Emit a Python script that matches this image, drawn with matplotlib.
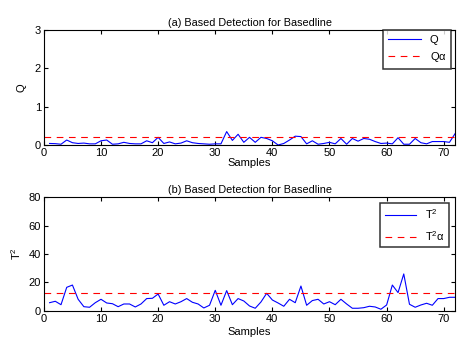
import numpy as np
import matplotlib
matplotlib.use('Agg')
from matplotlib import pyplot as plt

plt.rcParams['font.family'] = ['Liberation Sans', 'DejaVu Sans']
plt.rcParams['mathtext.fontset'] = 'custom'
plt.rcParams['mathtext.rm'] = 'Liberation Sans'
plt.rcParams['mathtext.it'] = 'Liberation Sans'

# サンプル番号
samples = list(range(1, 73))

# Q統計量
q_values = [0.04, 0.035, 0.02, 0.13, 0.06, 0.04, 0.05, 0.03, 0.03, 0.11,
            0.13, 0.02, 0.03, 0.07, 0.04, 0.03, 0.03, 0.11, 0.06, 0.2,
            0.04, 0.08, 0.03, 0.05, 0.11, 0.06, 0.04, 0.03, 0.02, 0.03,
            0.03, 0.35, 0.12, 0.28, 0.07, 0.2, 0.07, 0.2, 0.17, 0.11,
            0.0, 0.04, 0.13, 0.23, 0.22, 0.03, 0.11, 0.02, 0.04, 0.07,
            0.03, 0.17, 0.02, 0.17, 0.1, 0.17, 0.15, 0.09, 0.04, 0.05,
            0.03, 0.19, 0.02, 0.02, 0.17, 0.06, 0.03, 0.09, 0.09, 0.09,
            0.07, 0.3]
q_limit = 0.2

# T2統計量
t2_values = [5.8, 6.8, 4.4, 16.6, 18.2, 8.2, 3.0, 2.6, 5.8, 8.2,
             5.6, 5.1, 3.0, 4.9, 4.9, 2.8, 4.9, 8.7, 8.9, 11.9,
             4.0, 6.5, 4.9, 6.5, 8.7, 6.1, 4.9, 2.1, 4.0, 14.5,
             4.0, 14.3, 4.4, 8.7, 7.0, 3.5, 1.9, 6.3, 12.4, 7.7,
             5.6, 3.3, 8.2, 5.8, 17.5, 4.0, 7.3, 8.2, 4.9, 6.5,
             4.4, 8.2, 4.9, 1.9, 1.9, 2.3, 3.3, 2.8, 1.2, 4.2,
             18.2, 12.9, 26.0, 4.7, 2.6, 4.2, 5.4, 4.0, 8.7, 8.7,
             9.6, 9.6]
t2_limit = 12.4

fig = plt.figure(figsize=(4.57, 3.38), dpi=100)

ax1 = fig.add_axes([0.096, 0.571, 0.9, 0.34])
ax2 = fig.add_axes([0.096, 0.080, 0.9, 0.337])

def style_axis(ax):
    ax.tick_params(direction='in', top=True, right=True, labelsize=8, length=3, width=0.8, pad=2)
    for s in ax.spines.values():
        s.set_linewidth(0.8)
    ax.set_xlim(0, 72)
    ax.set_xticks(range(0, 71, 10))

#(a) Q
ax1.plot(samples, q_values, color='blue', linewidth=0.8, label='Q')
ax1.axhline(q_limit, color='red', linestyle=(0, (6, 5)), linewidth=0.8, label=r'Q$\alpha$')
style_axis(ax1)
ax1.set_ylim(0, 3)
ax1.set_yticks([0, 1, 2, 3])
ax1.set_title('(a) Based Detection for Basedline', fontsize=7.8, pad=3)
ax1.set_xlabel('Samples', fontsize=8, labelpad=0)
ax1.set_ylabel('Q', fontsize=8, labelpad=6)
leg1 = ax1.legend(loc='upper right', fontsize=8, frameon=True, fancybox=False,
                  edgecolor='black', handlelength=3.0, borderaxespad=0.0,
                  bbox_to_anchor=(0.99, 1.0), labelspacing=0.5)
leg1.get_frame().set_linewidth(1.1)

#(b) T2
ax2.plot(samples, t2_values, color='blue', linewidth=0.8, label=r'T$^2$')
ax2.axhline(t2_limit, color='red', linestyle=(0, (6, 5)), linewidth=0.8, label=r'T$^2$$\alpha$')
style_axis(ax2)
ax2.set_ylim(0, 80)
ax2.set_yticks([0, 20, 40, 60, 80])
ax2.set_title('(b) Based Detection for Basedline', fontsize=7.8, pad=3)
ax2.set_xlabel('Samples', fontsize=8, labelpad=2.5)
ax2.set_ylabel(r'T$^2$', fontsize=8, labelpad=4)
leg2 = ax2.legend(loc='upper right', fontsize=8, frameon=True, fancybox=False,
                  edgecolor='black', handlelength=2.8, borderaxespad=0.0,
                  bbox_to_anchor=(0.985, 0.95), labelspacing=0.7)
leg2.get_frame().set_linewidth(1.1)

fig.savefig('out.png', dpi=100)
